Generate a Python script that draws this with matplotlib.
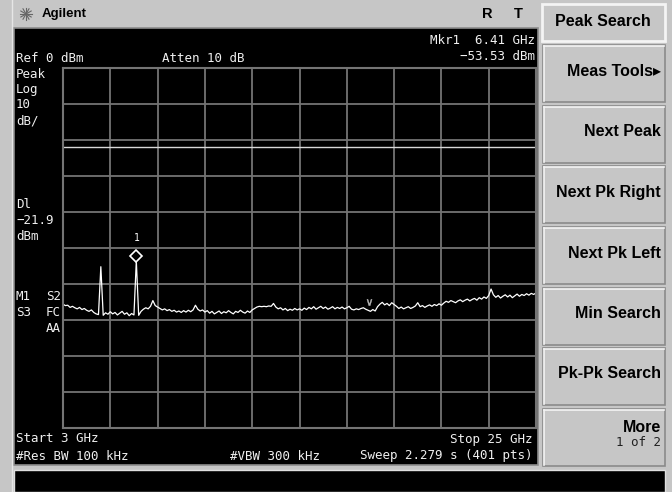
import matplotlib
matplotlib.use('Agg')
import matplotlib.pyplot as plt
import matplotlib.patches as patches
import matplotlib.transforms as mtransforms
import numpy as np

# sweep settings
start_ghz = 3
stop_ghz = 25
ref_dbm = 0
db_per_div = 10
display_line_dbm = -21.9
marker_ghz = 6.41
marker_dbm = -53.53
caret_ghz = 17.25
caret_dbm = -64.9

# trace (dBm), evenly spaced from start to stop
trace_dbm = [
    -65.6, -66.0, -65.9, -66.5, -66.2, -66.6, -66.9, -66.5, -67.1, -66.8, -67.3, -67.6, -67.2, -67.9, -68.3, -68.5,
    -55.2,
    -68.7, -68.0, -68.4, -67.7, -68.3, -67.9, -68.6, -68.1, -67.6, -68.4, -68.0, -68.8, -68.2, -68.6,
    -53.53,
    -68.7, -67.6, -67.0, -66.6, -66.9, -66.2, -64.6, -66.0, -66.4,
    -66.8, -67.2, -66.9, -67.4, -67.1, -67.6, -67.3, -67.8, -67.5, -67.9, -67.4, -67.8, -67.3, -67.7, -67.2,
    -65.9,
    -67.0, -67.5, -67.2, -67.8, -67.4, -68.1, -67.6, -68.3, -67.9, -67.5, -68.2, -67.7, -68.0, -67.4, -67.9, -68.3,
    -67.6, -67.9, -67.3, -67.8, -68.1, -67.5, -67.9, -67.2,
    -66.8, -66.4, -66.2, -66.3, -66.2, -66.3, -66.1, -66.2, -65.4,
    -66.4, -66.9, -66.6, -67.2, -66.8, -67.4, -67.0, -67.3, -66.8, -67.2, -66.9,
    -67.3, -66.7, -67.1, -66.5, -66.9, -66.3, -67.0, -66.6, -66.2, -66.8, -66.4, -67.0, -66.7, -66.3, -66.9, -66.5,
    -66.8, -66.4, -66.9, -66.6, -66.2,
    -67.0, -67.2, -66.9, -67.1, -66.8, -66.6, -67.0, -67.3, -67.6, -67.1, -67.5,
    -66.3, -65.6, -65.1, -65.8, -65.4, -66.0, -65.2, -65.7, -66.2,
    -66.8, -66.4, -66.9, -66.6, -66.3, -66.8, -66.5, -66.1,
    -65.2, -66.3, -66.0, -66.5, -66.1, -65.8, -66.2, -65.7, -66.0, -65.5, -65.9,
    -65.3, -64.8, -65.1, -64.6, -64.9, -65.2, -64.7, -64.4, -64.9, -64.5, -64.2, -64.7, -64.3, -64.0, -64.5,
    -63.8, -64.2, -63.6, -64.0, -63.2, -61.4, -63.0,
    -63.7, -63.2, -63.9, -63.4, -63.0, -63.6, -63.1, -63.8, -63.3, -62.8, -63.4, -62.9, -63.2, -62.7, -63.1, -62.6,
    -62.9, -62.5,
]

softkeys = ['Meas Tools\u25b8', 'Next Peak', 'Next Pk Right', 'Next Pk Left',
            'Min Search', 'Pk-Pk Search']

W, H = 672, 492
GRAY = '#c6c6c6'
SCREEN_TXT = '#f0f0f0'
MONO = 'DejaVu Sans Mono'
SANS = ['Liberation Sans', 'DejaVu Sans']

fig = plt.figure(figsize=(W / 100, H / 100), dpi=100)
fig.patch.set_facecolor(GRAY)

# background canvas in pixel coordinates
bg = fig.add_axes([0, 0, 1, 1])
bg.set_xlim(0, W)
bg.set_ylim(H, 0)
bg.axis('off')

bg.add_patch(patches.Rectangle((14, 28), 524, 437, fc='black', ec='#8c8c8c', lw=1.2))
bg.add_patch(patches.Rectangle((14, 470), 651, 22, fc='black', ec='#e0e0e0', lw=1))
bg.plot([12, 12], [0, H], color='#e6e6e6', lw=1)

# Agilent logo + header
for a in np.linspace(0, np.pi, 6, endpoint=False):
    dx, dy = 6 * np.cos(a), 6 * np.sin(a)
    bg.plot([26 - dx, 26 + dx], [14 - dy, 14 + dy], color='#666666', lw=0.8)
bg.text(42, 14, 'Agilent', fontsize=9.5, fontweight='bold', family=SANS,
        ha='left', va='center', color='black')
bg.text(487, 14, 'R', fontsize=10.5, fontweight='bold', family=SANS, ha='center', va='center')
bg.text(518, 14, 'T', fontsize=10.5, fontweight='bold', family=SANS, ha='center', va='center')

# softkey panel
bg.add_patch(patches.Rectangle((542, 4), 123, 37, fc=GRAY, ec='#f4f4f4', lw=2))
bg.text(603, 22, 'Peak Search', fontsize=11.5, fontweight='bold', family=SANS,
        ha='center', va='center')
tops = [45, 106, 166, 227, 288, 348, 409]
for i, top in enumerate(tops):
    bg.add_patch(patches.Rectangle((543, top), 122, 57, fc=GRAY, ec='#8a8a8a', lw=1.2))
    bg.plot([544, 664], [top + 1, top + 1], color='#f4f4f4', lw=1.2)
    bg.plot([544, 544], [top + 1, top + 56], color='#f4f4f4', lw=1.2)
    if i < len(softkeys):
        bg.text(661, top + 26, softkeys[i], fontsize=11.5, fontweight='bold',
                family=SANS, ha='right', va='center')
bg.text(661, 427, 'More', fontsize=11.5, fontweight='bold', family=SANS, ha='right', va='center')
bg.text(661, 443, '1 of 2', fontsize=9, family=MONO, ha='right', va='center', color='#202020')

# screen annotations
def stext(x, y, s, ha='left'):
    bg.text(x, y, s, fontsize=9, family=MONO, color=SCREEN_TXT, ha=ha, va='center')

stext(16, 58, 'Ref 0 dBm')
stext(162, 58, 'Atten 10 dB')
stext(535, 40, f'Mkr1  {marker_ghz:.2f} GHz', ha='right')
stext(535, 57, f'{marker_dbm:.2f} dBm'.replace('-', '\u2212'), ha='right')
for y, s in zip([74, 90, 105, 121], ['Peak', 'Log', '10', 'dB/']):
    stext(16, y, s)
for y, s in zip([204, 220, 236], ['Dl', f'{display_line_dbm}'.replace('-', '\u2212'), 'dBm']):
    stext(16, y, s)
stext(16, 297, 'M1')
stext(61, 297, 'S2', ha='right')
stext(16, 313, 'S3')
stext(61, 313, 'FC', ha='right')
stext(61, 329, 'AA', ha='right')
stext(16, 439, f'Start {start_ghz} GHz')
stext(16, 456, '#Res BW 100 kHz')
stext(230, 456, '#VBW 300 kHz')
stext(532, 439, f'Stop {stop_ghz} GHz', ha='right')
stext(532, 456, 'Sweep 2.279 s (401 pts)', ha='right')

# graticule and trace
ax = fig.add_axes([63 / W, (H - 428) / H, 473 / W, 360 / H])
ax.set_facecolor('black')
ax.set_xlim(start_ghz, stop_ghz)
ax.set_ylim(ref_dbm - 10 * db_per_div, ref_dbm)
ax.set_xticks(np.linspace(start_ghz, stop_ghz, 11))
ax.set_yticks(np.linspace(ref_dbm - 10 * db_per_div, ref_dbm, 11))
ax.grid(True, color='#747474', lw=1.3)
ax.tick_params(length=0, labelbottom=False, labelleft=False)
for s in ax.spines.values():
    s.set_color('#747474')
    s.set_linewidth(1.5)

freq = np.linspace(start_ghz, stop_ghz, len(trace_dbm))
ax.axhline(display_line_dbm, color='#d8d8d8', lw=1)
ax.plot(freq, trace_dbm, color='white', lw=0.9)

up = mtransforms.offset_copy(ax.transData, fig=fig, x=0, y=5, units='dots')
ax.plot(marker_ghz, marker_dbm, marker='D', ms=6, mfc='black', mec='white',
        mew=1.2, transform=up, clip_on=False)
ax.text(marker_ghz, marker_dbm + 5.0, '1', fontsize=7, family=MONO, color='white',
        ha='center', va='bottom')
ax.plot(caret_ghz, caret_dbm, marker=r'$\vee$', ms=4.5, color='#bbbbbb', mew=0.3)

fig.savefig('out.png', dpi=100, facecolor=fig.get_facecolor())
